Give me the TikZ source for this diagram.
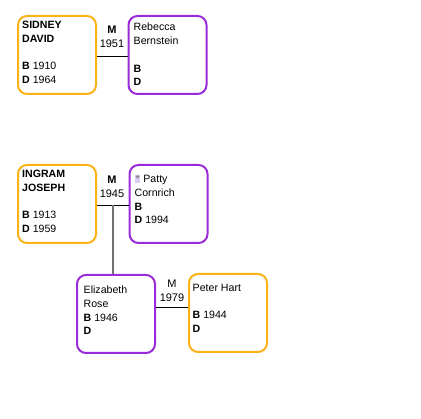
\documentclass[tikz,border=0pt]{standalone}
\usepackage{fontspec}
\setmainfont{Liberation Sans}
\definecolor{amberline}{HTML}{FBB218}
\definecolor{violetline}{HTML}{9A2BD8}
\definecolor{starmark}{HTML}{DCCBF3}
\definecolor{stemgray}{HTML}{707070}
\newcommand{\starbox}{{\setlength{\fboxsep}{0.8pt}\colorbox{starmark}{\textcolor{stemgray}{*}}}}

\begin{document}
\begin{tikzpicture}[x=1pt, y=-1pt,
    person/.style={draw=#1, line width=2pt, rounded corners=9pt,
      minimum width=78pt, minimum height=78pt, inner sep=0pt},
    % anchored at the baseline of the last line
    info/.style={anchor=base west, inner sep=0pt, align=left,
      font=\fontsize{10.6}{13.8}\selectfont},
    wed/.style={font=\fontsize{11}{14}\selectfont, inner sep=0pt, align=center}]
  \useasboundingbox (0,0) rectangle (421,419);

  % first couple
  \node[person=amberline] (sidney) at (57,55) {};
  \node[person=violetline] (rebecca) at (167.5,55) {};
  \node[info] at ([shift={(5pt,-68.5pt)}]sidney.north west)
    {\textbf{SIDNEY}\\\textbf{DAVID}\\[13.8pt]\textbf{B} 1910\\\textbf{D} 1964};
  \node[info] at ([shift={(6pt,-71pt)}]rebecca.north west)
    {Rebecca\\Bernstein\\[13.8pt]\textbf{B}\\\textbf{D}};
  \draw[line width=0.8pt] ([yshift=-1pt]sidney.east) -- ([yshift=-1pt]rebecca.west);
  \node[wed] (wed1) at (112,37) {\textbf{M}\\1951};

  % second couple
  \node[person=amberline] (ingram) at (57,204) {};
  \node[person=violetline] (patty) at (168.5,204) {};
  \node[info] at ([shift={(5pt,-68.5pt)}]ingram.north west)
    {\textbf{INGRAM}\\\textbf{JOSEPH}\\[13.8pt]\textbf{B} 1913\\\textbf{D} 1959};
  \node[info] at ([shift={(6pt,-60pt)}]patty.north west)
    {\starbox\ Patty\\Cornrich\\\textbf{B}\\\textbf{D} 1994};
  \draw[line width=0.8pt] ([yshift=-1pt]ingram.east) -- ([yshift=-1pt]patty.west);
  \node[wed] (wed2) at (112,187) {\textbf{M}\\1945};
  \coordinate (stem) at (113,205);

  % child and spouse
  \node[person=violetline] (eliza) at (116,314) {};
  \node[person=amberline] (peter) at (228,313) {};
  \node[info] at ([shift={(7.5pt,-61pt)}]eliza.north west)
    {Elizabeth\\Rose\\\textbf{B} 1946\\\textbf{D}};
  \node[info] at ([shift={(4.5pt,-59.5pt)}]peter.north west)
    {Peter Hart\\[13.8pt]\textbf{B} 1944\\\textbf{D}};
  \draw[stemgray, line width=1.2pt] (stem) -- (stem |- eliza.north);
  \coordinate (link3) at (156,307);
  \draw[line width=0.8pt] (link3) -- (link3 -| peter.west);
  \node[wed] (wed3) at (172,291) {M\\1979};
\end{tikzpicture}
\end{document}
